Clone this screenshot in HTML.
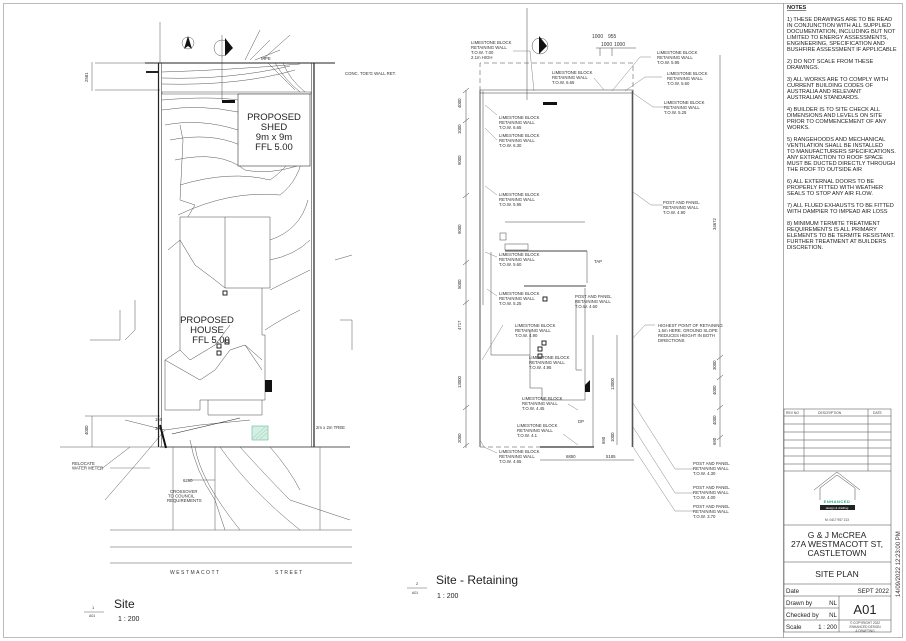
<!DOCTYPE html>
<html><head><meta charset="utf-8"><style>
html,body{margin:0;padding:0;background:#fff;}
svg{display:block;font-family:"Liberation Sans",sans-serif;}
.t{font-size:4.3px;fill:#333;}
.n{font-size:5.6px;fill:#222;}
</style></head><body>
<svg width="906" height="641" viewBox="0 0 906 641" xmlns="http://www.w3.org/2000/svg">
<rect x="3.5" y="3.5" width="899" height="634" fill="none" stroke="#bbb" stroke-width="1"/>
<line x1="783.5" y1="3" x2="783.5" y2="638" stroke="#999" stroke-width="0.8"/>

<!-- ============ SITE PLAN ============ -->
<g stroke="#555" stroke-width="0.5" fill="none">
 <line x1="160" y1="22" x2="160" y2="63"/>
 <line x1="95" y1="63" x2="160" y2="63"/>
 <line x1="95" y1="90" x2="160" y2="90"/>
 <line x1="92" y1="62" x2="92" y2="91"/>
 <line x1="92" y1="416" x2="92" y2="447"/>
 <line x1="60" y1="447" x2="160" y2="447"/>
 <line x1="85" y1="416" x2="160" y2="416"/>
 <line x1="110" y1="530" x2="352" y2="530"/>
 <line x1="110" y1="547" x2="352" y2="547"/>
 <line x1="110" y1="563" x2="352" y2="563"/>
 <line x1="160" y1="447" x2="350" y2="447" stroke="#222" stroke-width="0.8"/>
 <path d="M162 72 Q230 70 300 64"/>
 <path d="M162 78 Q230 80 290 66"/>
 <path d="M162 84 Q240 86 295 70"/>
 <path d="M162 100 Q210 96 238 100"/>
 <path d="M162 110 Q200 104 238 112"/>
 <path d="M165 125 Q200 118 238 130"/>
 <path d="M170 140 Q210 132 240 145"/>
 <path d="M175 160 Q220 150 245 170 Q270 175 300 165"/>
 <path d="M180 185 Q230 170 270 180 Q300 160 305 120"/>
 <path d="M178 215 Q230 190 280 195 Q300 180 304 150"/>
 <path d="M270 240 Q300 230 308 200"/>
 <path d="M270 260 Q295 255 310 240"/>
 <path d="M270 290 Q290 280 300 275 L310 270"/>
 <path d="M265 330 Q280 320 300 310"/>
 <path d="M180 125 L183 140 L180 200 L195 205 L180 230"/>
 <path d="M245 60 L260 30 M250 60 L270 40 M255 60 L280 50 M262 60 L290 35"/>
 <path d="M268 63 Q280 75 295 90 M275 63 Q285 80 300 92 M283 63 Q290 80 305 92"/>
 <path d="M100 470 L130 447 M105 500 Q140 460 165 430"/>
 <path d="M195 447 Q200 480 240 530"/>
 <path d="M220 447 Q250 490 300 530"/>
 <path d="M240 447 Q270 480 290 500 L350 520"/>
 <path d="M270 447 Q290 470 300 490"/>
 <path d="M173 447 L173 530"/><path d="M215 447 L215 530"/>
 <path d="M320 447 L320 530"/>
 <path d="M190 480 L215 480"/>
 <path d="M190 440 Q195 470 215 500 L225 530"/>
 <path d="M120 310 L120 340 L90 340"/>
 <path d="M340 320 L352 320 L352 350"/>
 <path d="M335 260 L352 255"/>
 <path d="M125 420 L165 430 L200 425 L250 420"/>
 <path d="M135 300 L135 330 L125 340"/>
 <circle cx="188" cy="43" r="6"/>
 <circle cx="222" cy="48" r="8"/>
 <line x1="222" y1="35" x2="222" y2="100"/>
</g>
<path d="M188 36 L184 49 L188 46 L192 49Z" fill="#111"/>
<path d="M225 38 L233 48 L225 56Z" fill="#111"/>
<g stroke="#222" fill="none">
 <line x1="158.5" y1="63" x2="158.5" y2="447" stroke-width="1.2"/>
 <line x1="161.5" y1="63" x2="161.5" y2="447" stroke-width="0.5"/>
 <line x1="311.5" y1="63" x2="311.5" y2="447" stroke-width="0.5"/>
 <line x1="314" y1="63" x2="314" y2="447" stroke-width="1.2"/>
 <line x1="145" y1="63" x2="335" y2="63" stroke-width="1"/>
 <rect x="162" y="92" width="149" height="2" stroke-width="0.4"/>
 <line x1="146" y1="72" x2="158" y2="72" stroke-width="2"/>
</g>
<rect x="222" y="100" width="13" height="3" fill="#111"/>
<rect x="238" y="94" width="72" height="72" fill="#fff" stroke="#333" stroke-width="0.6"/>
<text x="274" y="120" font-size="9.5" text-anchor="middle" fill="#222">PROPOSED</text>
<text x="274" y="130" font-size="9.5" text-anchor="middle" fill="#222">SHED</text>
<text x="274" y="140" font-size="9.5" text-anchor="middle" fill="#222">9m x 9m</text>
<text x="274" y="150" font-size="9.5" text-anchor="middle" fill="#222">FFL 5.00</text>
<g stroke="#444" stroke-width="0.5" fill="#fff">
 <path d="M180 217 L270 217 L270 288 L262 288 L262 335 L265 335 L265 400 L262 400 L262 415 L208 415 L208 400 L200 400 L200 410 L165 410 L165 360 L180 350 Z"/>
 <line x1="225" y1="217" x2="225" y2="288"/>
 <line x1="225" y1="288" x2="262" y2="288"/>
 <path d="M165 360 L200 380 L215 370 L230 350 L245 345 L262 370" fill="none"/>
 <path d="M180 350 L190 360 L215 345 L230 325" fill="none"/>
 <path d="M168 250 L180 240 L195 265 L215 280 L225 288" fill="none"/>
 <path d="M245 345 L262 360" fill="none"/>
 <line x1="208" y1="400" x2="262" y2="400"/>
</g>
<rect x="223" y="291" width="4" height="4" fill="none" stroke="#111" stroke-width="0.9"/>
<rect x="225" y="340" width="4" height="4" fill="none" stroke="#111" stroke-width="0.9"/>
<rect x="217" y="344" width="4" height="4" fill="none" stroke="#111" stroke-width="0.9"/>
<rect x="217" y="351" width="4" height="4" fill="none" stroke="#111" stroke-width="0.9"/>
<text x="207" y="323" font-size="9.5" text-anchor="middle" fill="#222">PROPOSED</text>
<text x="207" y="333" font-size="9.5" text-anchor="middle" fill="#222">HOUSE</text>
<text x="211" y="343" font-size="9.5" text-anchor="middle" fill="#222">FFL 5.00</text>
<rect x="252" y="426" width="16" height="14" fill="#d6efe4" stroke="#4a8" stroke-width="0.5"/>
<g stroke="#7b9" stroke-width="0.4"><line x1="253" y1="438" x2="265" y2="427"/><line x1="256" y1="439" x2="267" y2="429"/><line x1="260" y1="439" x2="267" y2="433"/></g>
<path d="M265 380 L272 380 L272 392 L265 392" fill="#111"/>
<line x1="172" y1="434" x2="240" y2="418" stroke="#222" stroke-width="0.6"/>
<line x1="160" y1="425" x2="166" y2="448" stroke="#111" stroke-width="2"/>
<g class="t">
<text x="316" y="429">2m x 2m TREE</text>
<text x="72" y="465">RELOCATE</text><text x="72" y="469.5">WATER METER</text>
<line x1="110" y1="468" x2="150" y2="468" stroke="#444" stroke-width="0.4"/>
<text x="170" y="493">CROSSOVER</text><text x="168" y="497.5">TO COUNCIL</text><text x="167" y="502">REQUIREMENTS</text>
<text x="183" y="482">6290</text>
<text x="155" y="421">150</text><text x="155" y="430">300</text>
<text x="345" y="75">CONC. TOE'G WALL RET.</text>
<text x="261" y="60">PIPE</text>
</g>
<text x="88" y="435" class="t" transform="rotate(-90 88 435)">4000</text>
<text x="88" y="82" class="t" transform="rotate(-90 88 82)">2581</text>
<text x="170" y="574" font-size="5" letter-spacing="1.5" fill="#333">WESTMACOTT</text>
<text x="275" y="574" font-size="5" letter-spacing="1.5" fill="#333">STREET</text>
<text x="114" y="608" font-size="12" fill="#222">Site</text>
<text x="118" y="621" font-size="7" fill="#222">1 : 200</text>
<text x="92" y="609" font-size="4" fill="#333">1</text>
<line x1="84" y1="612" x2="104" y2="612" stroke="#333" stroke-width="0.4"/>
<text x="89" y="617" font-size="3.5" fill="#333">A01</text>

<!-- ============ SITE RETAINING ============ -->
<g stroke="#444" stroke-width="0.5" fill="none">
 <path d="M480 91 L480 63 L633 63 L633 91" stroke-dasharray="5 3"/>
 <line x1="480" y1="447" x2="540" y2="447" stroke-dasharray="5 3"/>
 <rect x="480" y="90" width="153" height="3" stroke="#333"/>
 <line x1="480" y1="91" x2="480" y2="447" stroke-width="0.9"/>
 <line x1="483" y1="91" x2="483" y2="305"/>
 <line x1="632.5" y1="91" x2="632.5" y2="447" stroke="#555" stroke-width="1.6"/>
 <line x1="466" y1="90" x2="466" y2="448"/>
 <g stroke="#333"><line x1="463" y1="93" x2="469" y2="88"/><line x1="463" y1="123" x2="469" y2="118"/><line x1="463" y1="198" x2="469" y2="193"/><line x1="463" y1="265" x2="469" y2="260"/><line x1="463" y1="305" x2="469" y2="300"/><line x1="463" y1="410" x2="469" y2="405"/><line x1="463" y1="448" x2="469" y2="443"/></g>
 <line x1="720" y1="55" x2="720" y2="447"/>
 <g stroke="#333"><line x1="717" y1="360" x2="723" y2="355"/><line x1="717" y1="380" x2="723" y2="375"/><line x1="717" y1="410" x2="723" y2="405"/><line x1="717" y1="440" x2="723" y2="435"/></g>
 <line x1="540" y1="460" x2="634" y2="460"/>
 <line x1="540" y1="447" x2="594" y2="447" stroke="#333" stroke-width="1.2"/>
 <line x1="505" y1="222" x2="585" y2="222"/>
 <line x1="505" y1="251" x2="587" y2="251" stroke-width="0.9"/>
 <line x1="587" y1="251" x2="587" y2="283"/>
 <line x1="524" y1="286" x2="586" y2="286" stroke-width="0.9"/>
 <line x1="491" y1="252" x2="491" y2="355"/>
 <line x1="491" y1="355" x2="530" y2="355"/>
 <line x1="530" y1="330" x2="530" y2="388"/>
 <line x1="530" y1="388" x2="542" y2="388"/>
 <line x1="542" y1="388" x2="542" y2="400"/>
 <line x1="542" y1="400" x2="585" y2="400"/>
 <line x1="585" y1="288" x2="585" y2="400"/>
 <line x1="576" y1="300" x2="576" y2="370"/>
 <line x1="576" y1="370" x2="582" y2="370"/>
 <line x1="593" y1="335" x2="593" y2="447"/>
 <line x1="617" y1="335" x2="617" y2="445"/>
 <rect x="505" y="244" width="23" height="6"/>
 <rect x="500" y="233" width="6" height="7"/>
 <line x1="527" y1="8" x2="527" y2="100"/><circle cx="540" cy="46" r="8"/>
 <line x1="600" y1="48" x2="600" y2="56"/><line x1="612" y1="48" x2="612" y2="56"/><line x1="596" y1="48" x2="636" y2="48"/>
</g>
<path d="M539 36 L547 46 L539 54Z" fill="#111"/>
<rect x="543" y="102" width="14" height="3" fill="#111"/>
<path d="M585 385 L590 380 L590 392 L585 392Z" fill="#111"/>
<rect x="538" y="347" width="4" height="4" fill="none" stroke="#111" stroke-width="0.9"/>
<rect x="538" y="354" width="4" height="4" fill="none" stroke="#111" stroke-width="0.9"/>
<rect x="542" y="341" width="4" height="4" fill="none" stroke="#111" stroke-width="0.9"/>
<rect x="543" y="297" width="4" height="4" fill="none" stroke="#111" stroke-width="0.9"/>
<g stroke="#666" stroke-width="0.4" fill="none">
 <path d="M513 51 L530 51 L534 91"/><path d="M594 78 L604 90"/>
 <path d="M651 57 L640 57 L612 91"/><path d="M662 77 L645 77 L625 91"/>
 <path d="M665 107 L653 107 L633 93"/><path d="M663 205 L651 205 L633 192"/>
 <path d="M497 115 L485 105"/><path d="M497 140 L485 128"/><path d="M497 195 L485 186"/>
 <path d="M497 257 L485 252"/><path d="M497 296 L487 289"/>
 <path d="M655 325 L645 325 L633 338"/>
 <path d="M694 469 L675 469 L633 403"/><path d="M694 493 L675 493 L633 427"/><path d="M694 511 L675 511 L633 447"/>
 <path d="M503 325 L482 360"/><path d="M568 404 L578 410"/><path d="M563 434 L578 445"/>
 <path d="M497 453 L484 447 L480 440"/>
</g>
<g class="t">
 <text x="471" y="44">LIMESTONE BLOCK</text><text x="471" y="49">RETAINING WALL</text><text x="471" y="54">T.O.W. 7.00</text><text x="471" y="59">2.1m HIGH</text>
 <text x="552" y="74">LIMESTONE BLOCK</text><text x="552" y="79">RETAINING WALL</text><text x="552" y="84">T.O.W. 6.65</text>
 <text x="657" y="54">LIMESTONE BLOCK</text><text x="657" y="59">RETAINING WALL</text><text x="657" y="64">T.O.W. 5.95</text>
 <text x="667" y="75">LIMESTONE BLOCK</text><text x="667" y="80">RETAINING WALL</text><text x="667" y="85">T.O.W. 5.60</text>
 <text x="664" y="104">LIMESTONE BLOCK</text><text x="664" y="109">RETAINING WALL</text><text x="664" y="114">T.O.W. 5.25</text>
 <text x="499" y="119">LIMESTONE BLOCK</text><text x="499" y="124">RETAINING WALL</text><text x="499" y="129">T.O.W. 6.65</text>
 <text x="499" y="137">LIMESTONE BLOCK</text><text x="499" y="142">RETAINING WALL</text><text x="499" y="147">T.O.W. 6.30</text>
 <text x="499" y="196">LIMESTONE BLOCK</text><text x="499" y="201">RETAINING WALL</text><text x="499" y="206">T.O.W. 5.95</text>
 <text x="663" y="204">POST AND PANEL</text><text x="663" y="209">RETAINING WALL</text><text x="663" y="214">T.O.W. 4.90</text>
 <text x="499" y="256">LIMESTONE BLOCK</text><text x="499" y="261">RETAINING WALL</text><text x="499" y="266">T.O.W. 5.60</text>
 <text x="499" y="295">LIMESTONE BLOCK</text><text x="499" y="300">RETAINING WALL</text><text x="499" y="305">T.O.W. 5.25</text>
 <text x="575" y="298">POST AND PANEL</text><text x="575" y="303">RETAINING WALL</text><text x="575" y="308">T.O.W. 4.60</text>
 <text x="515" y="327">LIMESTONE BLOCK</text><text x="515" y="332">RETAINING WALL</text><text x="515" y="337">T.O.W. 4.90</text>
 <text x="529" y="359">LIMESTONE BLOCK</text><text x="529" y="364">RETAINING WALL</text><text x="529" y="369">T.O.W. 4.95</text>
 <text x="522" y="400">LIMESTONE BLOCK</text><text x="522" y="405">RETAINING WALL</text><text x="522" y="410">T.O.W. 4.45</text>
 <text x="517" y="427">LIMESTONE BLOCK</text><text x="517" y="432">RETAINING WALL</text><text x="517" y="437">T.O.W. 4.1</text>
 <text x="499" y="453">LIMESTONE BLOCK</text><text x="499" y="458">RETAINING WALL</text><text x="499" y="463">T.O.W. 4.65</text>
 <text x="658" y="327">HIGHEST POINT OF RETAINING</text><text x="658" y="332">1.5m HERE. GROUND SLOPE</text><text x="658" y="337">REDUCES HEIGHT IN BOTH</text><text x="658" y="342">DIRECTIONS</text>
 <text x="693" y="465">POST AND PANEL</text><text x="693" y="470">RETAINING WALL</text><text x="693" y="475">T.O.W. 4.30</text>
 <text x="693" y="489">POST AND PANEL</text><text x="693" y="494">RETAINING WALL</text><text x="693" y="499">T.O.W. 4.00</text>
 <text x="693" y="508">POST AND PANEL</text><text x="693" y="513">RETAINING WALL</text><text x="693" y="518">T.O.W. 3.70</text>
 <text x="566" y="458">6850</text><text x="606" y="458">5185</text>
 <text x="592" y="38" font-size="5">1000</text><text x="608" y="38" font-size="5">955</text>
 <text x="601" y="46" font-size="5">1000</text><text x="614" y="46" font-size="5">1000</text>
 <text x="594" y="263">TAP</text><text x="578" y="423">DP</text>
</g>
<g class="t">
 <text x="461" y="108" transform="rotate(-90 461 108)">4000</text>
 <text x="461" y="134" transform="rotate(-90 461 134)">1000</text>
 <text x="461" y="165" transform="rotate(-90 461 165)">9000</text>
 <text x="461" y="234" transform="rotate(-90 461 234)">9000</text>
 <text x="461" y="289" transform="rotate(-90 461 289)">5000</text>
 <text x="461" y="330" transform="rotate(-90 461 330)">4717</text>
 <text x="461" y="388" transform="rotate(-90 461 388)">13000</text>
 <text x="461" y="443" transform="rotate(-90 461 443)">2000</text>
 <text x="716" y="230" transform="rotate(-90 716 230)">34672</text>
 <text x="716" y="370" transform="rotate(-90 716 370)">3000</text>
 <text x="716" y="395" transform="rotate(-90 716 395)">4000</text>
 <text x="716" y="425" transform="rotate(-90 716 425)">4000</text>
 <text x="716" y="445" transform="rotate(-90 716 445)">690</text>
 <text x="614" y="390" transform="rotate(-90 614 390)">13000</text>
 <text x="614" y="442" transform="rotate(-90 614 442)">1000</text>
 <text x="605" y="444" transform="rotate(-90 605 444)">690</text>
</g>
<text x="436" y="584" font-size="12" fill="#222">Site - Retaining</text>
<text x="437" y="598" font-size="7" fill="#222">1 : 200</text>
<text x="416" y="585" font-size="4" fill="#333">2</text>
<line x1="407" y1="588" x2="427" y2="588" stroke="#333" stroke-width="0.4"/>
<text x="412" y="594" font-size="3.5" fill="#333">A01</text>

<!-- ============ NOTES ============ -->
<g class="n">
<text x="787" y="9" font-weight="bold" text-decoration="underline">NOTES</text>
<text x="787" y="21">1) THESE DRAWINGS ARE TO BE READ</text>
<text x="787" y="27">IN CONJUNCTION WITH ALL SUPPLIED</text>
<text x="787" y="33">DOCUMENTATION, INCLUDING BUT NOT</text>
<text x="787" y="39">LIMITED TO ENERGY ASSESSMENTS,</text>
<text x="787" y="45">ENGINEERING, SPECIFICATION AND</text>
<text x="787" y="51">BUSHFIRE ASSESSMENT IF APPLICABLE</text>
<text x="787" y="63">2) DO NOT SCALE FROM THESE</text>
<text x="787" y="69">DRAWINGS.</text>
<text x="787" y="81">3) ALL WORKS ARE TO COMPLY WITH</text>
<text x="787" y="87">CURRENT BUILDING CODES OF</text>
<text x="787" y="93">AUSTRALIA AND RELEVANT</text>
<text x="787" y="99">AUSTRALIAN STANDARDS.</text>
<text x="787" y="111">4) BUILDER IS TO SITE CHECK ALL</text>
<text x="787" y="117">DIMENSIONS AND LEVELS ON SITE</text>
<text x="787" y="123">PRIOR TO COMMENCEMENT OF ANY</text>
<text x="787" y="129">WORKS.</text>
<text x="787" y="141">5) RANGEHOODS AND MECHANICAL</text>
<text x="787" y="147">VENTILATION SHALL BE INSTALLED</text>
<text x="787" y="153">TO MANUFACTURERS SPECIFICATIONS.</text>
<text x="787" y="159">ANY EXTRACTION TO ROOF SPACE</text>
<text x="787" y="165">MUST BE DUCTED DIRECTLY THROUGH</text>
<text x="787" y="171">THE ROOF TO OUTSIDE AIR</text>
<text x="787" y="183">6) ALL EXTERNAL DOORS TO BE</text>
<text x="787" y="189">PROPERLY FITTED WITH WEATHER</text>
<text x="787" y="195">SEALS TO STOP ANY AIR FLOW.</text>
<text x="787" y="207">7) ALL FLUED EXHAUSTS TO BE FITTED</text>
<text x="787" y="213">WITH DAMPIER TO IMPEAD AIR LOSS</text>
<text x="787" y="225">8) MINIMUM TERMITE TREATMENT</text>
<text x="787" y="231">REQUIREMENTS IS ALL PRIMARY</text>
<text x="787" y="237">ELEMENTS TO BE TERMITE RESISTANT.</text>
<text x="787" y="243">FURTHER TREATMENT AT BUILDERS</text>
<text x="787" y="249">DISCRETION.</text>
</g>

<!-- ============ TITLE BLOCK ============ -->
<g stroke="#444" stroke-width="0.5" fill="none">
 <rect x="784" y="409" width="107" height="223"/>
 <line x1="784" y1="416" x2="891" y2="416"/>
 <line x1="784" y1="424" x2="891" y2="424"/><line x1="784" y1="432" x2="891" y2="432"/>
 <line x1="784" y1="440" x2="891" y2="440"/><line x1="784" y1="448" x2="891" y2="448"/>
 <line x1="784" y1="456" x2="891" y2="456"/><line x1="784" y1="464" x2="891" y2="464"/>
 <line x1="784" y1="471" x2="891" y2="471"/>
 <line x1="804" y1="409" x2="804" y2="471"/><line x1="868" y1="409" x2="868" y2="471"/>
 <line x1="784" y1="525" x2="891" y2="525"/>
 <line x1="784" y1="562" x2="891" y2="562"/>
 <line x1="784" y1="584" x2="891" y2="584"/>
 <line x1="784" y1="596" x2="891" y2="596"/>
 <line x1="784" y1="608" x2="839" y2="608"/>
 <line x1="784" y1="620" x2="891" y2="620"/>
 <line x1="839" y1="596" x2="839" y2="632"/>
 <path d="M820 500 L820 488 L837 475 L855 488 L855 500 M814 490 L837 472 L860 490"/>
</g>
<rect x="820" y="505" width="35" height="5" fill="#222"/>
<text x="837" y="503" font-size="4" fill="#2a8" text-anchor="middle" font-weight="bold" letter-spacing="0.5">ENHANCED</text>
<text x="837" y="509" font-size="3" fill="#fff" text-anchor="middle">design &amp; drafting</text>
<text x="837" y="521" font-size="3.2" fill="#444" text-anchor="middle">M: 0417 957 213</text>
<g font-size="3.4" fill="#444">
 <text x="786" y="414">REV NO</text><text x="818" y="414">DESCRIPTION</text><text x="873" y="414">DATE</text>
</g>
<g font-size="8.5" fill="#222" text-anchor="middle">
 <text x="837" y="538">G &amp; J McCREA</text>
 <text x="837" y="547">27A WESTMACOTT ST,</text>
 <text x="837" y="556">CASTLETOWN</text>
 <text x="837" y="577">SITE PLAN</text>
</g>
<g font-size="6.2" fill="#222">
 <text x="786" y="593">Date</text><text x="889" y="593" text-anchor="end">SEPT 2022</text>
 <text x="786" y="605">Drawn by</text><text x="837" y="605" text-anchor="end">NL</text>
 <text x="786" y="617">Checked by</text><text x="837" y="617" text-anchor="end">NL</text>
 <text x="786" y="629">Scale</text><text x="837" y="629" text-anchor="end">1 : 200</text>
</g>
<text x="865" y="614" font-size="13" fill="#222" text-anchor="middle">A01</text>
<g font-size="3.2" fill="#444" text-anchor="middle">
 <text x="865" y="624">© COPYRIGHT 2022</text><text x="865" y="628">ENHANCED DESIGN</text><text x="865" y="632">&amp; DRAFTING</text>
</g>
<text x="900" y="597" font-size="6" fill="#333" transform="rotate(-90 900 597)">14/09/2022 12:23:00 PM</text>
</svg>
</body></html>
